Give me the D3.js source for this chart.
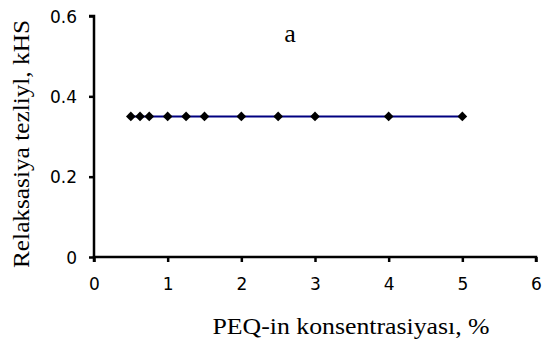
<!DOCTYPE html>
<html>
<head>
<meta charset="utf-8">
<script src="https://cdn.jsdelivr.net/npm/d3@7"></script>
<style>
  body { margin: 0; background: #fff; }
  svg { display: block; }
</style>
</head>
<body>
<svg id="chart"></svg>
<script>
let concentration = [0.5, 0.625, 0.75, 1, 1.25, 1.5, 2, 2.5, 3, 4, 5]
let rate = [0.35, 0.35, 0.35, 0.35, 0.35, 0.35, 0.35, 0.35, 0.35, 0.35, 0.35]
let xTicks = [0, 1, 2, 3, 4, 5, 6]
let yTicks = [0, 0.2, 0.4, 0.6]

let width = 544, height = 345
let margin = {top: 16, right: 8, bottom: 88, left: 94}

let svg = d3.select('#chart')
    .attr('width', width)
    .attr('height', height)

let x = d3.scaleLinear().domain([0, 6]).range([margin.left, 536])
let y = d3.scaleLinear().domain([0, 0.6]).range([257, margin.top])

let xAxis = svg.append('g')
    .attr('transform', `translate(0,${y(0)})`)
    .call(d3.axisBottom(x).tickValues(xTicks).tickFormat(d3.format('d')).tickSize(5).tickPadding(16))
let yAxis = svg.append('g')
    .attr('transform', `translate(${x(0)},0)`)
    .call(d3.axisLeft(y).tickValues(yTicks).tickFormat(d => d === 0 ? '0' : d3.format('.1f')(d)).tickSize(5).tickPadding(12))

for (let ax of [xAxis, yAxis]) {
    ax.select('.domain').attr('stroke', '#000').attr('stroke-width', 2.5)
    ax.selectAll('.tick line').attr('stroke', '#000').attr('stroke-width', 2.5)
    ax.selectAll('.tick text')
        .attr('fill', '#000')
        .style('font-family', 'DejaVu Sans, Arial, sans-serif')
        .style('font-size', '17px')
}
// plain axis lines, no end caps
xAxis.select('.domain').attr('d', `M${x(0)},5V0H${x(6)}V5`)
yAxis.select('.domain').attr('d', `M-5,${y(0.6)}H0V${y(0)}`)
yAxis.selectAll('.tick text').attr('dy', '0.36em')

let line = d3.line().x(d => x(d[0])).y(d => y(d[1]))
let pts = concentration.map((c, i) => [c, rate[i]])

svg.append('path')
    .datum(pts)
    .attr('d', line)
    .attr('fill', 'none')
    .attr('stroke', '#000080')
    .attr('stroke-width', 2)

svg.selectAll('.pt')
    .data(pts)
    .join('path')
        .attr('class', 'pt')
        .attr('d', d3.symbol(d3.symbolDiamond2, 60))
        .attr('transform', d => `translate(${x(d[0])},${y(d[1])})`)
        .attr('fill', '#000')

let serif = 'Liberation Serif, Times New Roman, serif'

svg.append('text')
    .attr('x', 351)
    .attr('y', 334)
    .attr('text-anchor', 'middle')
    .attr('textLength', 277)
    .attr('lengthAdjust', 'spacingAndGlyphs')
    .style('font-family', serif)
    .style('font-size', '24px')
    .text('PEQ-in konsentrasiyası, %')

svg.append('text')
    .attr('transform', 'translate(29,144) rotate(-90)')
    .attr('text-anchor', 'middle')
    .attr('textLength', 248)
    .attr('lengthAdjust', 'spacingAndGlyphs')
    .style('font-family', serif)
    .style('font-size', '24px')
    .text('Relaksasiya tezliyl, kHS')

svg.append('text')
    .attr('x', 290)
    .attr('y', 42)
    .attr('text-anchor', 'middle')
    .style('font-family', serif)
    .style('font-size', '26px')
    .text('a')
</script>
</body>
</html>
